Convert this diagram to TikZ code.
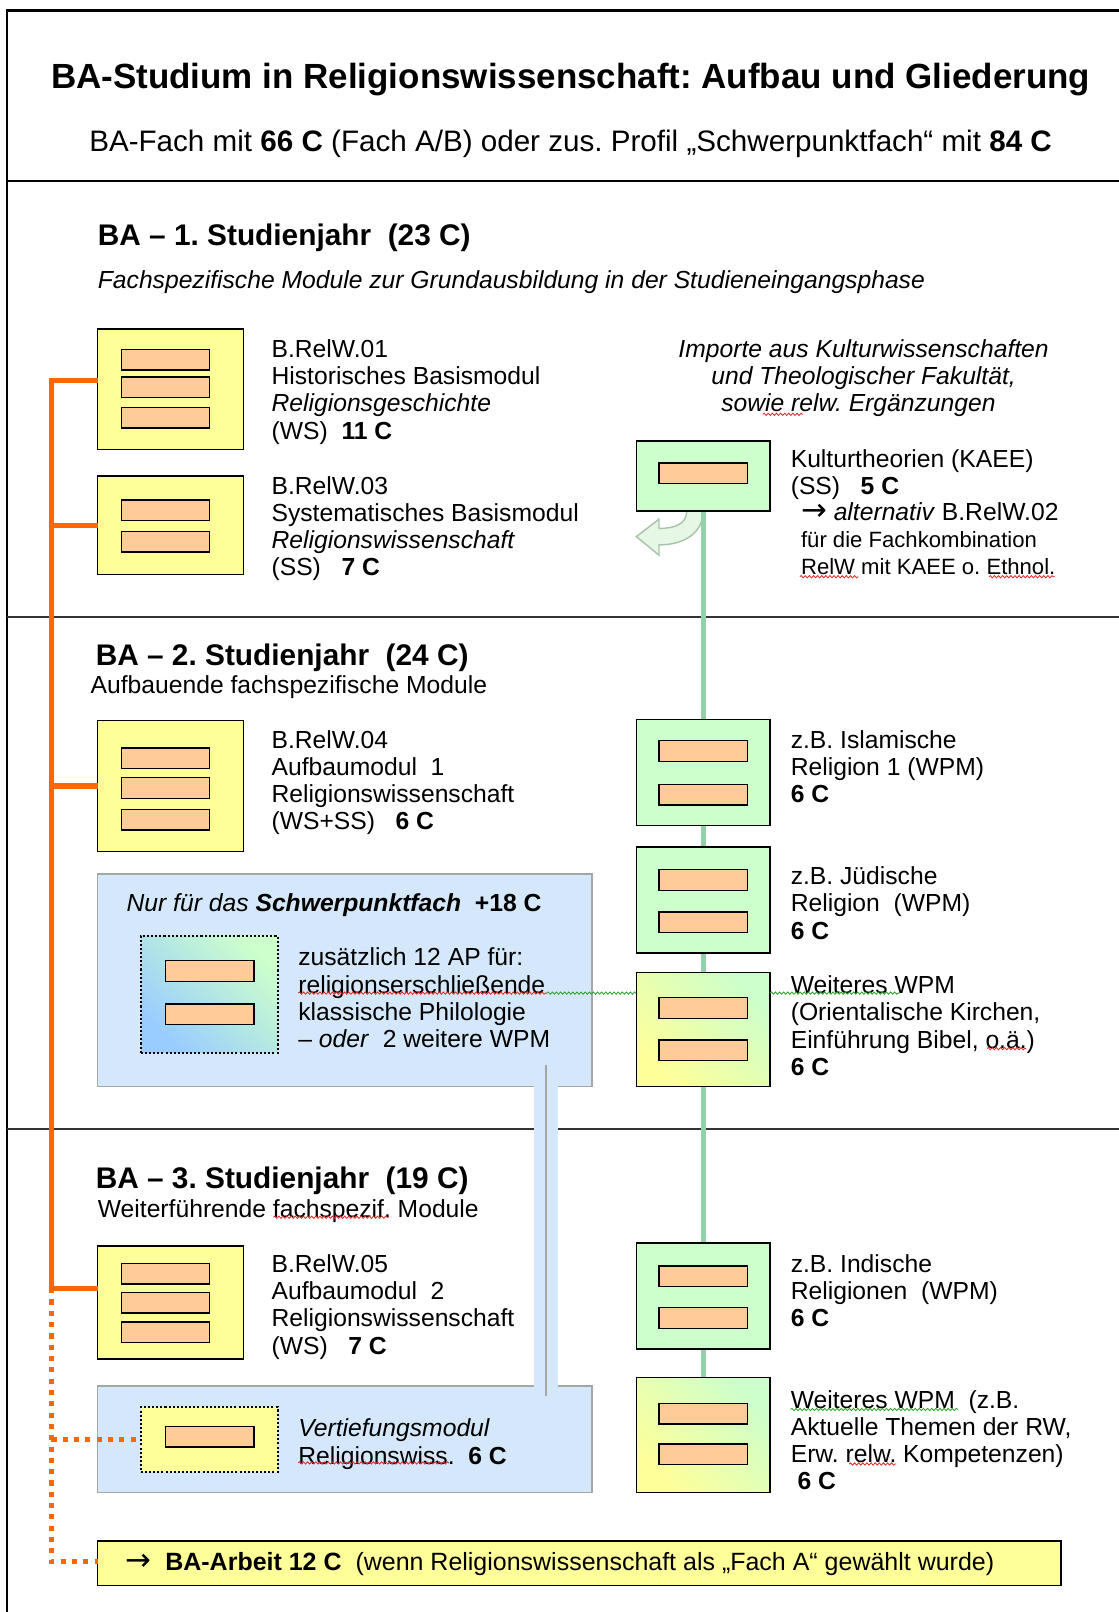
\documentclass[tikz,border=0pt]{standalone}
\usepackage{fontspec}
\setmainfont{Liberation Sans}
\newfontfamily\arrowfont{DejaVu Sans}
\frenchspacing
\usetikzlibrary{decorations.pathmorphing,backgrounds,calc}
\definecolor{yfill}{HTML}{FFFF99}
\definecolor{barfill}{HTML}{FFCC99}
\definecolor{gfill}{HTML}{CCFFCC}
\definecolor{bfill}{HTML}{D5E8FB}
\definecolor{bborder}{HTML}{A6A6A6}
\definecolor{ocol}{HTML}{FF6600}
\definecolor{gcol}{HTML}{96D0AA}
\definecolor{dblue}{HTML}{99CCFF}
\definecolor{arrfill}{HTML}{E6F7E6}
\definecolor{arrdraw}{HTML}{A8C4A8}
\definecolor{sepgray}{HTML}{333333}
\definecolor{wred}{HTML}{E02828}
\definecolor{wgreen}{HTML}{2E9E2E}
\newcommand{\rarr}{\smash{\fontsize{30}{30}\selectfont\arrowfont →}}
\tikzset{
  boxbase/.style={draw=black, line width=1.4pt, anchor=north west, inner sep=0pt, outer sep=0pt},
  ybox/.style={boxbase, fill=yfill},
  gbox/.style={boxbase, fill=gfill},
  gradbox/.style={boxbase, top color=gfill, bottom color=yfill, shading angle=-45},
  bluebox/.style={draw=bborder, line width=1.4pt, fill=bfill, anchor=north west, inner sep=0pt, outer sep=0pt},
  dotbox/.style={draw=black, line width=2pt, dash pattern=on 2pt off 2pt, anchor=north west, inner sep=0pt, outer sep=0pt},
  bar/.style={draw=black, line width=1.4pt, fill=barfill, minimum width=86pt, minimum height=20pt, inner sep=0pt},
  txt/.style={anchor=north west, inner sep=0pt, align=left, font=\fontsize{24}{26.5}\selectfont},
  smalltxt/.style={anchor=north west, inner sep=0pt, align=left, font=\fontsize{21.5}{26}\selectfont},
  headtxt/.style={anchor=north west, inner sep=0pt, font=\fontsize{29}{33}\selectfont\bfseries},
  oconn/.style={draw=ocol, line width=5pt},
  odots/.style={draw=ocol, line width=5pt, dash pattern=on 5pt off 6pt},
  gconn/.style={draw=gcol, line width=5pt},
  sepline/.style={draw=sepgray, line width=1.6pt},
  frameline/.style={draw=black, line width=2.4pt},
  wavyred/.style={draw=wred, line width=0.8pt, decorate, decoration={snake, segment length=4pt, amplitude=1.1pt}},
  wavygreen/.style={draw=wgreen, line width=0.8pt, decorate, decoration={snake, segment length=4pt, amplitude=1.1pt}},
}
\begin{document}
\begin{tikzpicture}[x=1pt,y=-1pt]
\useasboundingbox (0,0) rectangle (1088,1568);

% ---------- header ----------
\node[anchor=north, inner sep=0pt, font=\fontsize{34}{40}\selectfont\bfseries] (title) at (555,61)
  {BA-Studium in Religionswissenschaft: Aufbau und Gliederung};
\node[anchor=north, inner sep=0pt, font=\fontsize{28.8}{32}\selectfont] (subtitle) at (555,126)
  {BA-Fach mit \textbf{66 C} (Fach A/B) oder zus. Profil „Schwerpunktfach“ mit \textbf{84 C}};

% ---------- year 1 ----------
\node[headtxt] (h1) at (95,218) {BA – 1. Studienjahr\ \ (23 C)};
\node[txt, font=\fontsize{24}{26.5}\selectfont\itshape] (s1) at (95,263)
  {Fachspezifische Module zur Grundausbildung in der Studieneingangsphase};

\node[ybox, minimum width=142pt, minimum height=117pt] (y1) at (95,320) {};
\node[bar] (y1a) at (161,350) {};
\node[bar] (y1b) at (161,376.5) {};
\node[bar] (y1c) at (161,406.5) {};
\node[txt] (t1) at (264,330)
  {B.RelW.01\\Historisches Basismodul\\\textit{Religionsgeschichte}\\(WS)\ \ \textbf{11 C}};

\node[ybox, minimum width=142pt, minimum height=96pt] (y3) at (95,463) {};
\node[bar] (y3a) at (161,496.5) {};
\node[bar] (y3b) at (161,527) {};
\node[txt] (t3) at (264,463)
  {B.RelW.03\\Systematisches Basismodul\\\textit{Religionswissenschaft}\\(SS)\ \ \ \textbf{7 C}};

\node[txt, anchor=north, align=center, font=\fontsize{24}{26.5}\selectfont\itshape] (imp) at (840,330)
  {Importe aus Kulturwissenschaften\\und Theologischer Fakultät,\\sowie relw. Ergänzungen\hspace*{10pt}};

\node[gbox, minimum width=130pt, minimum height=68pt] (k) at (619,429) {};
\node[bar] (ka) at (684,460.5) {};
\node[txt] (kt) at (769,437) {Kulturtheorien (KAEE)\\(SS)\ \ \ \textbf{5 C}};
\node[txt] (kalt) at (779,489) {\rarr\ \textit{alternativ} B.RelW.02};
\node[smalltxt] (kcomb) at (779,517) {für die Fachkombination\\RelW mit KAEE o. Ethnol.};

% ---------- year 2 ----------
\node[headtxt] (h2) at (93,626) {BA – 2. Studienjahr\ \ (24 C)};
\node[txt] (s2) at (88,657) {Aufbauende fachspezifische Module};

\node[ybox, minimum width=142pt, minimum height=127pt] (y4) at (95,701) {};
\node[bar] (y4a) at (161,737.5) {};
\node[bar] (y4b) at (161,766.5) {};
\node[bar] (y4c) at (161,797.5) {};
\node[txt] (t4) at (264,710)
  {B.RelW.04\\Aufbaumodul\ \ 1\\Religionswissenschaft\\(WS+SS)\ \ \ \textbf{6 C}};

\node[bluebox, minimum width=481pt, minimum height=207pt] (sp) at (95,850) {};
\node[txt] (sph) at (123,869) {\textit{Nur für das \textbf{Schwerpunktfach}}\ \ \textbf{+18 C}};
\node[dotbox, top color=gfill, bottom color=dblue, shading angle=-45, minimum width=133pt, minimum height=114pt] (dp) at (137,910) {};
\node[bar] (dpa) at (204,944.5) {};
\node[bar] (dpb) at (204,986.5) {};
\node[txt] (spt) at (290,922)
  {zusätzlich 12 AP für:\\religionserschließende\\klassische Philologie\\– \textit{oder}\ \ 2 weitere WPM};

\node[gbox, minimum width=130pt, minimum height=103pt] (g1) at (619,700) {};
\node[bar] (g1a) at (684,730.5) {};
\node[bar] (g1b) at (684,773) {};
\node[txt] (g1t) at (769,710) {z.B. Islamische\\Religion 1 (WPM)\\\textbf{6 C}};

\node[gbox, minimum width=130pt, minimum height=103pt] (g2) at (619,824) {};
\node[bar] (g2a) at (684,856) {};
\node[bar] (g2b) at (684,897) {};
\node[txt] (g2t) at (769,843) {z.B. Jüdische\\Religion\ \ (WPM)\\\textbf{6 C}};

\node[gradbox, minimum width=130pt, minimum height=111pt] (g3) at (619,946) {};
\node[bar] (g3a) at (684,980.5) {};
\node[bar] (g3b) at (684,1021.5) {};
\node[txt] (g3t) at (769,949) {Weiteres WPM\\(Orientalische Kirchen,\\Einführung Bibel, o.ä.)\\\textbf{6 C}};

% ---------- year 3 ----------
\node[headtxt] (h3) at (93,1135) {BA – 3. Studienjahr\ \ (19 C)};
\node[txt] (s3) at (95,1167) {Weiterführende fachspezif. Module};

\node[ybox, minimum width=142pt, minimum height=110pt] (y5) at (95,1212) {};
\node[bar] (y5a) at (161,1239) {};
\node[bar] (y5b) at (161,1267) {};
\node[bar] (y5c) at (161,1296) {};
\node[txt] (t5) at (264,1220)
  {B.RelW.05\\Aufbaumodul\ \ 2\\Religionswissenschaft\\(WS)\ \ \ \textbf{7 C}};

\node[bluebox, minimum width=481pt, minimum height=104pt] (vb) at (95,1348) {};
\node[dotbox, fill=yfill, minimum width=133pt, minimum height=63pt] (vt) at (137,1369) {};
\node[bar] (vta) at (204,1397.5) {};
\node[txt] (vtt) at (290,1380) {\textit{Vertiefungsmodul}\\Religionswiss.\ \ \textbf{6 C}};

\node[gbox, minimum width=130pt, minimum height=103pt] (g4) at (619,1209) {};
\node[bar] (g4a) at (684,1241.5) {};
\node[bar] (g4b) at (684,1282) {};
\node[txt] (g4t) at (769,1220) {z.B. Indische\\Religionen\ \ (WPM)\\\textbf{6 C}};

\node[gradbox, minimum width=130pt, minimum height=112pt] (g5) at (619,1340) {};
\node[bar] (g5a) at (684,1375) {};
\node[bar] (g5b) at (684,1414.5) {};
\node[txt] (g5t) at (769,1352) {Weiteres WPM\ \ (z.B.\\Aktuelle Themen der RW,\\Erw. relw. Kompetenzen)\\\ \textbf{6 C}};

\node[ybox, minimum width=937pt, minimum height=43pt] (ba) at (95,1499) {};
\node[txt, anchor=west, font=\fontsize{24.3}{26.5}\selectfont] (bat) at (122,1521)
  {\rarr\ \ \textbf{BA-Arbeit 12 C}\ \ (wenn Religionswissenschaft als „Fach A“ gewählt wurde)};

% ---------- background: frame, separators, green connector, curved arrow ----------
\begin{pgfonlayer}{background}
  \fill[white] (0,0) rectangle (1088,1568);
  \draw[frameline] (1090,10) -- (7,10) -- (7,1570);
  \draw[frameline] (7,176) -- (1090,176);
  \draw[sepline] (7,600) -- (1090,600);
  \draw[sepline] (7,1098) -- (1090,1098);
  \filldraw[fill=arrfill, draw=arrdraw, line width=1.4pt]
    (668,497) .. controls (668,510) and (656,514) .. (641,514) -- (641,505) -- (619,522)
    -- (641,540) -- (641,530) .. controls (666,530) and (684,518) .. (684,497) -- cycle;
  \draw[gconn] (k.south) -- (g5.north);
\end{pgfonlayer}

% ---------- orange connectors ----------
\coordinate (otop) at (50,370);
\coordinate (obot) at (50,1253);
\coordinate (oend) at (50,1519);
\draw[oconn] (y1.west |- otop) -- (otop) -- (obot) -- (y5.west |- obot);
\draw[oconn] (otop |- y3.west) -- (y3.west);
\draw[oconn] (otop |- y4.west) -- (y4.west);
\draw[odots] (obot) -- (oend) -- (ba.west |- oend);
\draw[odots] (obot |- vt.west) -- (vt.west);

% ---------- blue band linking the two Schwerpunkt boxes ----------
\coordinate (bx) at (531,0);
\fill[bfill] ($(bx |- sp.south)+(-12,-2)$) rectangle ($(bx |- vb.north)+(12,2)$);
\draw[bborder, line width=1.2pt] ($(bx |- sp.south)+(0,-21)$) -- ($(bx |- vb.north)+(0,10)$);

% ---------- spell-check underlines ----------
\draw[wavyred] (742,403) -- (781,403);
\draw[wavyred] (778,561) -- (835,561);
\draw[wavyred] (962,561) -- (1026,561);
\draw[wavyred] (290,966) -- (532,966);
\draw[wavygreen] (532,966) -- (619,966);
\draw[wavygreen] (749,966) -- (875,966);
\draw[wavyred] (960,1020) -- (998,1020);
\draw[wavyred] (266,1184) -- (378,1184);
\draw[wavyred] (290,1423) -- (437,1423);
\draw[wavygreen] (769,1371) -- (932,1371);
\draw[wavyred] (826,1424) -- (872,1424);
\end{tikzpicture}
\end{document}
